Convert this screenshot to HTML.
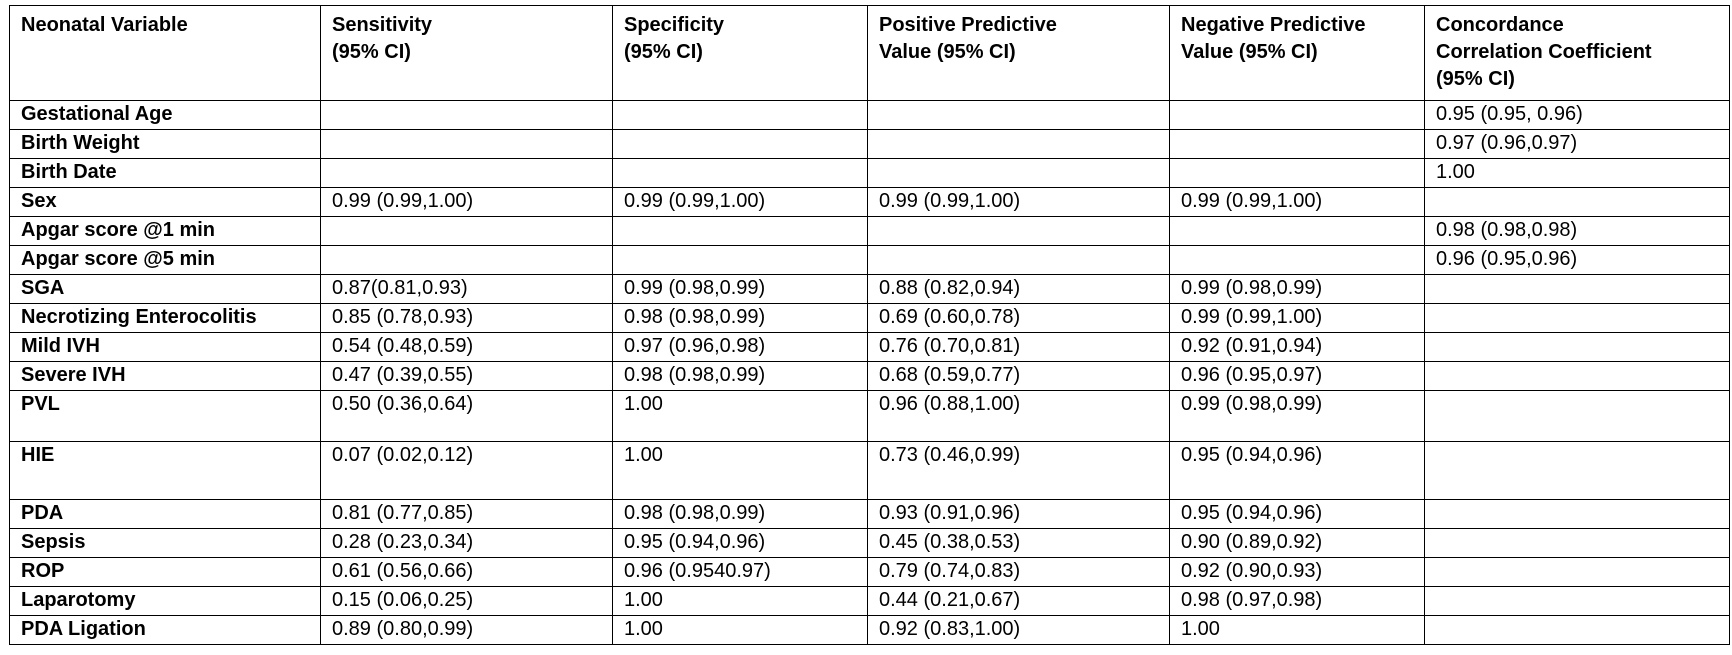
<!DOCTYPE html>
<html>
<head>
<meta charset="utf-8">
<style>
  html,body{margin:0;padding:0;background:#fff;}
  body{width:1732px;height:655px;position:relative;overflow:hidden;font-family:"Liberation Sans",Arial,sans-serif;color:#000;}
  table{position:absolute;left:9px;top:5px;border-collapse:collapse;table-layout:fixed;width:1720px;}
  td,th{border:1.3px solid #000;padding:1px 11px 0 11px;vertical-align:top;font-size:20px;line-height:24px;text-align:left;white-space:nowrap;overflow:hidden;}
  th{font-weight:bold;line-height:27px;padding-top:6px;}
  td.v{font-weight:bold;}
  tr{height:29px;}
  tr.h{height:95px;}
  tr.pvl{height:51px;}
  tr.hie{height:58px;}
</style>
</head>
<body>
<table>
  <colgroup>
    <col style="width:311px"><col style="width:292px"><col style="width:255px"><col style="width:302px"><col style="width:255px"><col style="width:305px">
  </colgroup>
  <tr class="h">
    <th>Neonatal Variable</th>
    <th>Sensitivity<br>(95% CI)</th>
    <th>Specificity<br>(95% CI)</th>
    <th>Positive Predictive<br>Value (95% CI)</th>
    <th>Negative Predictive<br>Value (95% CI)</th>
    <th>Concordance<br>Correlation Coefficient<br>(95% CI)</th>
  </tr>
  <tr><td class="v">Gestational Age</td><td></td><td></td><td></td><td></td><td>0.95 (0.95, 0.96)</td></tr>
  <tr><td class="v">Birth Weight</td><td></td><td></td><td></td><td></td><td>0.97 (0.96,0.97)</td></tr>
  <tr><td class="v">Birth Date</td><td></td><td></td><td></td><td></td><td>1.00</td></tr>
  <tr><td class="v">Sex</td><td>0.99 (0.99,1.00)</td><td>0.99 (0.99,1.00)</td><td>0.99 (0.99,1.00)</td><td>0.99 (0.99,1.00)</td><td></td></tr>
  <tr><td class="v">Apgar score @1 min</td><td></td><td></td><td></td><td></td><td>0.98 (0.98,0.98)</td></tr>
  <tr><td class="v">Apgar score @5 min</td><td></td><td></td><td></td><td></td><td>0.96 (0.95,0.96)</td></tr>
  <tr><td class="v">SGA</td><td>0.87(0.81,0.93)</td><td>0.99 (0.98,0.99)</td><td>0.88 (0.82,0.94)</td><td>0.99 (0.98,0.99)</td><td></td></tr>
  <tr><td class="v">Necrotizing Enterocolitis</td><td>0.85 (0.78,0.93)</td><td>0.98 (0.98,0.99)</td><td>0.69 (0.60,0.78)</td><td>0.99 (0.99,1.00)</td><td></td></tr>
  <tr><td class="v">Mild IVH</td><td>0.54 (0.48,0.59)</td><td>0.97 (0.96,0.98)</td><td>0.76 (0.70,0.81)</td><td>0.92 (0.91,0.94)</td><td></td></tr>
  <tr><td class="v">Severe IVH</td><td>0.47 (0.39,0.55)</td><td>0.98 (0.98,0.99)</td><td>0.68 (0.59,0.77)</td><td>0.96 (0.95,0.97)</td><td></td></tr>
  <tr class="pvl"><td class="v">PVL</td><td>0.50 (0.36,0.64)</td><td>1.00</td><td>0.96 (0.88,1.00)</td><td>0.99 (0.98,0.99)</td><td></td></tr>
  <tr class="hie"><td class="v">HIE</td><td>0.07 (0.02,0.12)</td><td>1.00</td><td>0.73 (0.46,0.99)</td><td>0.95 (0.94,0.96)</td><td></td></tr>
  <tr><td class="v">PDA</td><td>0.81 (0.77,0.85)</td><td>0.98 (0.98,0.99)</td><td>0.93 (0.91,0.96)</td><td>0.95 (0.94,0.96)</td><td></td></tr>
  <tr><td class="v">Sepsis</td><td>0.28 (0.23,0.34)</td><td>0.95 (0.94,0.96)</td><td>0.45 (0.38,0.53)</td><td>0.90 (0.89,0.92)</td><td></td></tr>
  <tr><td class="v">ROP</td><td>0.61 (0.56,0.66)</td><td>0.96 (0.9540.97)</td><td>0.79 (0.74,0.83)</td><td>0.92 (0.90,0.93)</td><td></td></tr>
  <tr><td class="v">Laparotomy</td><td>0.15 (0.06,0.25)</td><td>1.00</td><td>0.44 (0.21,0.67)</td><td>0.98 (0.97,0.98)</td><td></td></tr>
  <tr><td class="v">PDA Ligation</td><td>0.89 (0.80,0.99)</td><td>1.00</td><td>0.92 (0.83,1.00)</td><td>1.00</td><td></td></tr>
</table>
</body>
</html>
